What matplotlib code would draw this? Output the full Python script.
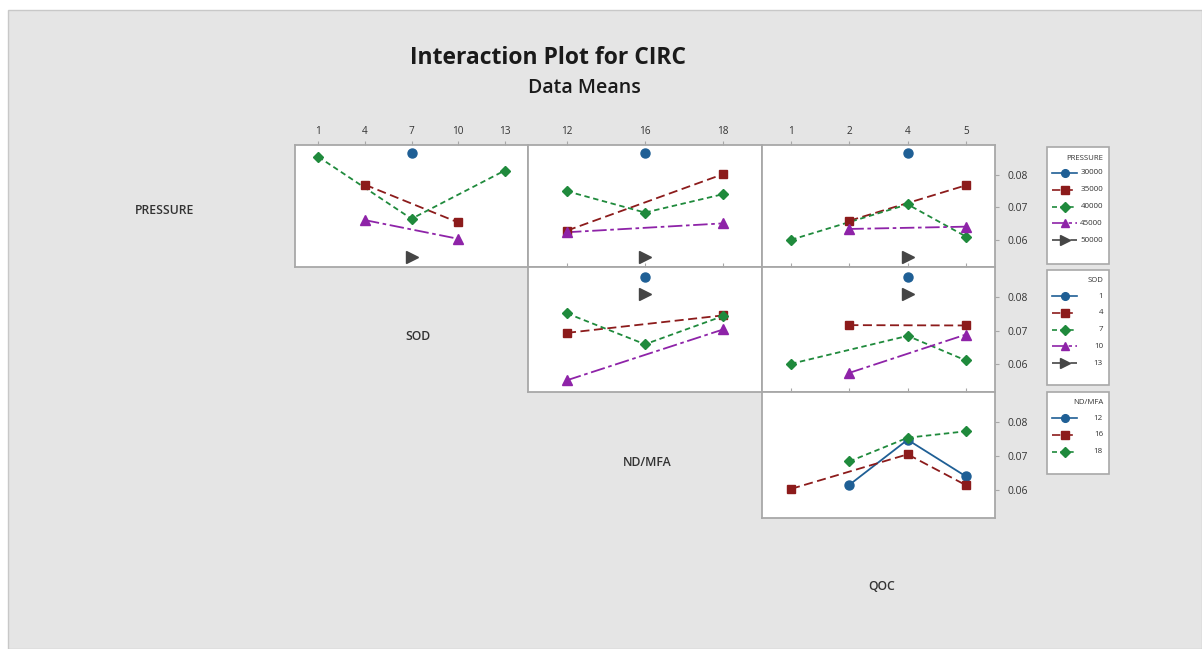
import matplotlib
matplotlib.use("Agg")
import matplotlib.pyplot as plt
from matplotlib.patches import Rectangle

W, H = 1202, 649
FONT = ["Open Sans", "DejaVu Sans"]

# factor levels
PRESSURE = ["30000", "35000", "40000", "45000", "50000"]
SOD = ["1", "4", "7", "10", "13"]
NDMFA = ["12", "16", "18"]
QOC = ["1", "2", "4", "5"]

# mean CIRC per (row-factor level, column-factor level); None = combination not run
PRES_x_SOD = [
    [None, None, 0.0867, None, None],
    [None, 0.0769, None, 0.0654, None],
    [0.0854, None, 0.0665, None, 0.0812],
    [None, 0.0661, None, 0.0604, None],
    [None, None, 0.0547, None, None],
]
PRES_x_ND = [
    [None, 0.0867, None],
    [0.0629, None, 0.0801],
    [0.0749, 0.0684, 0.0740],
    [0.0624, None, 0.0651],
    [None, 0.0547, None],
]
PRES_x_QOC = [
    [None, None, 0.0866, None],
    [None, 0.0659, None, 0.0767],
    [0.0601, None, 0.0709, 0.0611],
    [None, 0.0634, None, 0.0641],
    [None, None, 0.0547, None],
]
SOD_x_ND = [
    [None, 0.0861, None],
    [0.0694, None, 0.0746],
    [0.0752, 0.0660, 0.0744],
    [0.0553, None, 0.0704],
    [None, 0.0809, None],
]
SOD_x_QOC = [
    [None, None, 0.0861, None],
    [None, 0.0717, None, 0.0716],
    [0.0602, None, 0.0685, 0.0612],
    [None, 0.0575, None, 0.0689],
    [None, None, 0.0811, None],
]
ND_x_QOC = [
    [None, 0.0616, 0.0749, 0.0641],
    [0.0604, None, 0.0706, 0.0615],
    [None, 0.0685, 0.0755, 0.0774],
]

COLORS = ["#1f5f95", "#8c1b1b", "#1f8a3c", "#8e23a8", "#454545"]
MARKERS = ["o", "s", "D", "^", ">"]
MSIZE = [6.5, 6, 5.5, 7.5, 8]
STYLES = ["-", (0, (5, 2.5)), (0, (3, 2)), (0, (8, 2, 2, 2)), (0, (6, 2, 1, 2))]
YLIM = (0.0518, 0.0890)

COLS = [(295, 528), (528, 762), (762, 995)]
ROWS = [(145, 267), (267, 392), (392, 518)]


def px_axes(fig, x0, x1, y0, y1):
    return fig.add_axes([x0 / W, 1 - y1 / H, (x1 - x0) / W, (y1 - y0) / H])


fig = plt.figure(figsize=(W / 100, H / 100), dpi=100, facecolor="white")
bg = fig.add_axes([0, 0, 1, 1])
bg.set_xlim(0, W); bg.set_ylim(H, 0); bg.axis("off")
bg.add_patch(Rectangle((8, 10), W - 8, H - 10, facecolor="#e5e5e5",
                       edgecolor="#c8c8c8", lw=1))

bg.text(548, 58, "Interaction Plot for CIRC", ha="center", va="center",
        fontsize=16.5, fontweight="bold", family=FONT, color="#1a1a1a")
bg.text(584, 88, "Data Means", ha="center", va="center",
        fontsize=14, fontweight="semibold", family=FONT, color="#1a1a1a")

# diagonal factor names
for name, (x, y) in zip(["PRESSURE", "SOD", "ND/MFA", "QOC"],
                        [(165, 210), (418, 337), (647, 462), (882, 586)]):
    bg.text(x, y, name, ha="center", va="center", fontsize=8.8,
            fontweight="semibold", family=FONT, color="#333333")

col_levels = [SOD, NDMFA, QOC]
panels = {
    (0, 0): PRES_x_SOD, (0, 1): PRES_x_ND, (0, 2): PRES_x_QOC,
    (1, 1): SOD_x_ND, (1, 2): SOD_x_QOC,
    (2, 2): ND_x_QOC,
}

for (r, c), table in panels.items():
    ax = px_axes(fig, *COLS[c], *ROWS[r])
    ax.set_facecolor("white")
    levels = col_levels[c]
    for i, vals in enumerate(table):
        pts = [(j, v) for j, v in enumerate(vals) if v is not None]
        xs = [p[0] for p in pts]; ys = [p[1] for p in pts]
        if len(pts) > 1:
            ax.plot(xs, ys, color=COLORS[i], lw=1.3, ls=STYLES[i], zorder=2)
        ax.plot(xs, ys, ls="none", marker=MARKERS[i], ms=MSIZE[i],
                color=COLORS[i], mec=COLORS[i], zorder=3 + i)
    ax.set_xlim(-0.5, len(levels) - 0.5)
    ax.set_ylim(*YLIM)
    for s in ax.spines.values():
        s.set_color("#a8a8a8"); s.set_linewidth(1.3)
    ax.set_xticks(range(len(levels)))
    ax.xaxis.tick_top()
    if r == 0:
        ax.set_xticklabels(levels, family=FONT, fontsize=7.2, color="#333333")
    else:
        ax.set_xticklabels([])
    ax.tick_params(axis="x", length=3, width=0.8, color="#a8a8a8", pad=3)
    ax.set_yticks([0.06, 0.07, 0.08])
    if c == 2:
        ax.yaxis.tick_right()
        ax.set_yticklabels(["0.06", "0.07", "0.08"], family=FONT, fontsize=7.4,
                           color="#333333")
        ax.tick_params(axis="y", length=3, width=0.8, color="#a8a8a8", pad=6)
    else:
        ax.tick_params(axis="y", left=False, labelleft=False)

# legends, one per row factor
legends = [("PRESSURE", PRESSURE, 147, 264), ("SOD", SOD, 270, 385),
           ("ND/MFA", NDMFA, 392, 474)]
LX0, LX1 = 1047, 1109
for title, levels, top, bottom in legends:
    bg.add_patch(Rectangle((LX0, top), LX1 - LX0, bottom - top, facecolor="white",
                           edgecolor="#a8a8a8", lw=1.2, zorder=5))
    bg.text(LX1 - 6, top + 11, title, ha="right", va="center", fontsize=5.6,
            family=FONT, color="#333333", zorder=6)
    for i, lab in enumerate(levels):
        y = top + 26 + i * 16.8
        bg.plot([1052, 1077], [y, y], color=COLORS[i], lw=1.2, ls=STYLES[i],
                zorder=6)
        bg.plot([1064.5], [y], marker=MARKERS[i], ms=MSIZE[i] * 0.85,
                color=COLORS[i], zorder=7)
        bg.text(LX1 - 6, y, lab, ha="right", va="center", fontsize=5.8,
                family=FONT, color="#333333", zorder=6)

fig.savefig("out.png", dpi=100, facecolor=fig.get_facecolor())
